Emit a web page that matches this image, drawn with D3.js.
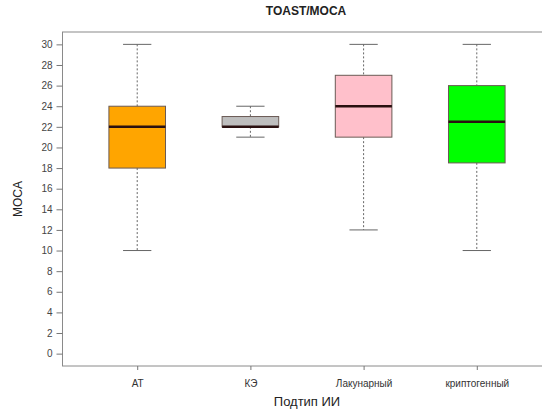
<!DOCTYPE html>
<html>
<head>
<meta charset="utf-8">
<script src="https://cdn.jsdelivr.net/npm/d3@7"></script>
<style>
  body { margin: 0; background: #fff; }
  text { font-family: "Liberation Sans", Arial, sans-serif; }
</style>
</head>
<body>
<script>
// box stats
const categories = ['АТ', 'КЭ', 'Лакунарный', 'криптогенный'];
const mins    = [10, 21, 12, 10];
const q1s     = [18, 22, 21, 18.5];
const medians = [22, 22, 24, 22.5];
const q3s     = [24, 23, 27, 26];
const maxs    = [30, 24, 30, 30];
const colors  = ['#FFA500', '#BEBEBE', '#FFC0CB', '#00FF00'];
const yTicks  = d3.range(0, 31, 2);

const width = 542, height = 411;
const svg = d3.select('body').append('svg')
    .attr('width', width)
    .attr('height', height);

const boxes = categories.map((c, i) => ({
    cat: c, pos: i + 1, min: mins[i], q1: q1s[i], med: medians[i], q3: q3s[i], max: maxs[i], color: colors[i]
}));

// R style: xlim 0.5..4.5 and 0..30 extended 4%
const x = d3.scaleLinear().domain([0.34, 4.66]).range([62.5, 551.5]);
const y = d3.scaleLinear().domain([-1.2, 31.2]).range([366, 32]);

// frame
svg.append('rect')
    .attr('x', x(0.34)).attr('y', y(31.2))
    .attr('width', x(4.66) - x(0.34)).attr('height', y(-1.2) - y(31.2))
    .attr('fill', 'none').attr('stroke', '#8a8a8a').attr('stroke-width', 1);

// y axis
const yAxis = svg.append('g')
    .attr('transform', `translate(${x(0.34)},0)`)
    .call(d3.axisLeft(y).tickValues(yTicks).tickSize(6).tickPadding(4));
yAxis.select('.domain').remove();
yAxis.selectAll('line').attr('stroke', '#777');
yAxis.selectAll('text').attr('font-size', 10).attr('fill', '#444')
    .style('font-family', '"Liberation Sans", Arial, sans-serif');

// x axis
const xAxis = svg.append('g')
    .attr('transform', `translate(0,${y(-1.2)})`)
    .call(d3.axisBottom(x).tickValues(boxes.map(b => b.pos))
        .tickFormat((d, i) => categories[i]).tickSize(4).tickPadding(10));
xAxis.select('.domain').remove();
xAxis.selectAll('line').attr('stroke', '#777');
xAxis.selectAll('text').attr('font-size', 10).attr('fill', '#333')
    .style('font-family', '"Liberation Sans", Arial, sans-serif');

const bw = 0.25, cw = 0.125;
const g = svg.append('g').selectAll('g').data(boxes).enter().append('g');

// whiskers
g.append('line')
    .attr('x1', d => x(d.pos)).attr('x2', d => x(d.pos))
    .attr('y1', d => y(d.max)).attr('y2', d => y(d.q3))
    .attr('stroke', '#666').attr('stroke-dasharray', '2,2');
g.append('line')
    .attr('x1', d => x(d.pos)).attr('x2', d => x(d.pos))
    .attr('y1', d => y(d.q1)).attr('y2', d => y(d.min))
    .attr('stroke', '#666').attr('stroke-dasharray', '2,2');
// caps
g.append('line')
    .attr('x1', d => x(d.pos - cw)).attr('x2', d => x(d.pos + cw))
    .attr('y1', d => y(d.max)).attr('y2', d => y(d.max))
    .attr('stroke', '#666');
g.append('line')
    .attr('x1', d => x(d.pos - cw)).attr('x2', d => x(d.pos + cw))
    .attr('y1', d => y(d.min)).attr('y2', d => y(d.min))
    .attr('stroke', '#666');
// box
g.append('rect')
    .attr('x', d => x(d.pos - bw)).attr('width', d => x(d.pos + bw) - x(d.pos - bw))
    .attr('y', d => y(d.q3)).attr('height', d => y(d.q1) - y(d.q3))
    .attr('fill', d => d.color).attr('stroke', '#6b5b55').attr('stroke-width', 1);
// median
g.append('line')
    .attr('x1', d => x(d.pos - bw)).attr('x2', d => x(d.pos + bw))
    .attr('y1', d => y(d.med)).attr('y2', d => y(d.med))
    .attr('stroke', '#2a1010').attr('stroke-width', 2.5);

// titles
svg.append('text').attr('x', 306).attr('y', 15).attr('text-anchor', 'middle')
    .attr('font-size', 12).attr('font-weight', 'bold').attr('fill', '#222').text('TOAST/MOCA');
svg.append('text').attr('x', 307).attr('y', 406).attr('text-anchor', 'middle')
    .attr('font-size', 13).attr('fill', '#222').text('Подтип ИИ');
svg.append('text').attr('transform', 'translate(22,199) rotate(-90)').attr('text-anchor', 'middle')
    .attr('font-size', 12).attr('fill', '#222').text('MOCA');
</script>
</body>
</html>
